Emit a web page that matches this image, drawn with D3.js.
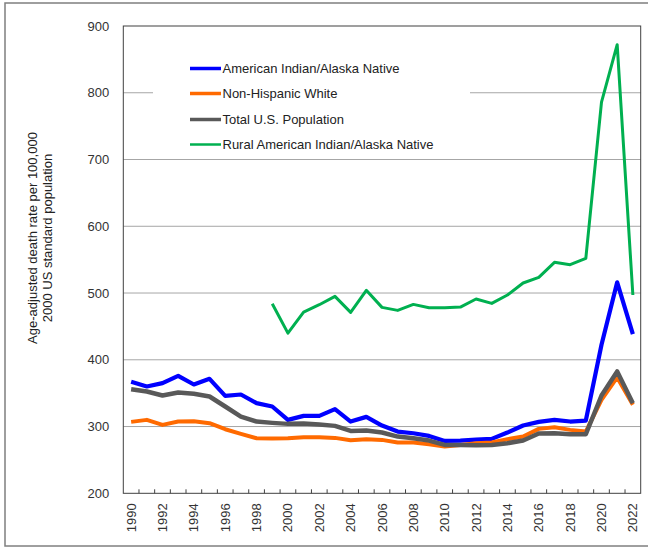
<!DOCTYPE html>
<html>
<head>
<meta charset="utf-8">
<script src="https://cdn.jsdelivr.net/npm/d3@7"></script>
<style>
  html, body { margin: 0; padding: 0; background: #fff; }
  svg { display: block; font-family: "Liberation Sans", Arial, sans-serif; }
</style>
</head>
<body>
<svg id="chart" width="648" height="548"></svg>
<script>
const years = d3.range(1990, 2023);
const aian = [367, 360, 365, 376, 363, 371.5, 346, 348, 335, 330, 310, 316, 316, 326, 307.5, 314.5, 301.5, 292.5, 290, 286, 278.5, 279, 280.5, 281.5, 291, 301.5, 307, 310, 307.5, 309, 422.5, 516, 438.5];
const white = [307, 310, 302.5, 307.5, 308, 305, 296, 289, 282.5, 282, 282.5, 284, 284, 283, 279.5, 281, 280, 276, 276, 273.5, 270, 272.5, 275, 276, 281, 285, 296.5, 299, 295, 292.5, 340, 373.5, 332.5];
const total = [356, 352.5, 346.5, 351, 349, 345, 330, 315, 307.5, 305.5, 304, 304.5, 303, 301, 293.5, 294, 291, 285, 282.5, 279, 272.5, 272.5, 272, 272.5, 275, 279, 289.5, 290, 288.5, 288.5, 346.5, 382.5, 335];
const rural = [null, null, null, null, null, null, null, null, null, 484, 440, 471.5, 482.5, 495, 471, 504, 478.5, 474, 483, 478, 478, 479, 491, 484.5, 497, 515, 523.5, 546, 542.5, 552, 786, 872, 497];
const yTicks = [200, 300, 400, 500, 600, 700, 800, 900];
const xLabels = years.filter(y => y % 2 === 0);
const seriesNames = ["American Indian/Alaska Native", "Non-Hispanic White", "Total U.S. Population", "Rural American Indian/Alaska Native"];
const yTitle = ["Age-adjusted death rate per 100,000", "2000 US standard population"];

const svg = d3.select("#chart");
const L = 123.3, R = 640.7, T = 26, B = 493.3;

// outer border
svg.append("rect").attr("x", 5).attr("y", 3).attr("width", 650).attr("height", 543)
  .attr("fill", "none").attr("stroke", "#7f7f7f").attr("stroke-width", 1.5);

const x = d3.scaleBand().domain(years).range([L, R]);
const y = d3.scaleLinear().domain([200, 900]).range([B, T]);
const cx = d => x(d) + x.bandwidth() / 2;

// gridlines
svg.append("g").selectAll("line").data(yTicks.filter(v => v > 200 && v < 900)).join("line")
  .attr("x1", L).attr("x2", R).attr("y1", d => y(d)).attr("y2", d => y(d))
  .attr("stroke", "#a6a6a6").attr("stroke-width", 1);

// legend background
svg.append("rect").attr("x", 153).attr("y", 50).attr("width", 317).attr("height", 104).attr("fill", "#fff");

// plot frame
svg.append("rect").attr("x", L).attr("y", T).attr("width", R - L).attr("height", B - T)
  .attr("fill", "none").attr("stroke", "#404040").attr("stroke-width", 1);

// x tick marks at category boundaries (inside)
svg.append("g").selectAll("line").data(years.slice(1)).join("line")
  .attr("x1", d => x(d)).attr("x2", d => x(d)).attr("y1", B).attr("y2", B - 4)
  .attr("stroke", "#404040").attr("stroke-width", 1);

// y axis labels
const yAxis = d3.axisLeft(y).tickValues(yTicks).tickSize(0).tickPadding(14).tickFormat(d3.format("d"));
const gy = svg.append("g").attr("transform", `translate(${L},0)`).call(yAxis);
gy.select(".domain").remove();
gy.selectAll("text").attr("font-size", 13).attr("fill", "#333").attr("font-family", "Liberation Sans, Arial, sans-serif");

// x axis labels
const xAxis = d3.axisBottom(x).tickValues(xLabels).tickSize(0).tickPadding(0);
const gx = svg.append("g").attr("transform", `translate(0,${B})`).call(xAxis);
gx.select(".domain").remove();
gx.selectAll("text")
  .attr("font-size", 13).attr("fill", "#333").attr("font-family", "Liberation Sans, Arial, sans-serif")
  .attr("transform", "rotate(-90)")
  .attr("x", -10).attr("y", 0).attr("dy", "0.35em")
  .attr("text-anchor", "end");

// y title
const yt = svg.append("text").attr("transform", "translate(40,238) rotate(-90)")
  .attr("text-anchor", "middle").attr("font-size", 13).attr("fill", "#222");
yTitle.forEach((t, i) => yt.append("tspan").attr("x", 0).attr("dy", i === 0 ? "-0.25em" : "1.15em").text(t));

// lines
const line = d3.line().defined(d => d[1] != null).x(d => cx(d[0])).y(d => y(d[1]));
const series = [
  { vals: rural, color: "#00b050", w: 3 },
  { vals: aian, color: "#0000ff", w: 4.2 },
  { vals: white, color: "#ff6a00", w: 4 },
  { vals: total, color: "#595959", w: 4.5 }
];
series.forEach(s => {
  svg.append("path").datum(years.map((yr, i) => [yr, s.vals[i]]))
    .attr("d", line).attr("fill", "none").attr("stroke", s.color)
    .attr("stroke-width", s.w).attr("stroke-linejoin", "round").attr("stroke-linecap", "butt");
});

// legend
const legColors = ["#0000ff", "#ff6a00", "#595959", "#00b050"];
const legW = [3.5, 3.5, 3.5, 2.5];
const legY = [68.5, 93.5, 119.5, 144.5];
seriesNames.forEach((n, i) => {
  svg.append("line").attr("x1", 190).attr("x2", 221).attr("y1", legY[i]).attr("y2", legY[i])
    .attr("stroke", legColors[i]).attr("stroke-width", legW[i]);
  svg.append("text").attr("x", 222.5).attr("y", legY[i]).attr("dy", "0.35em")
    .attr("font-size", 13).attr("fill", "#222").text(n);
});
</script>
</body>
</html>
